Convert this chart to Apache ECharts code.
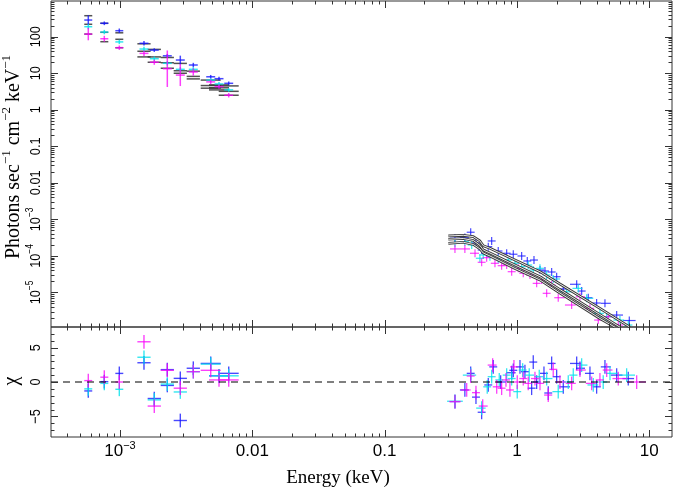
<!DOCTYPE html>
<html><head><meta charset="utf-8">
<script src="https://cdn.jsdelivr.net/npm/echarts/dist/echarts.min.js"></script>
<style>html,body{margin:0;padding:0;background:#fff}#c{width:675px;height:491px}</style>
</head><body><div id="c"></div>
<script>
// ---------------- data ----------------
// optical / UV bins (keV)
const optE      = [5.76e-4, 7.61e-4, 9.88e-4, 1.518e-3, 1.816e-3, 2.278e-3, 2.856e-3, 3.581e-3, 4.848e-3, 5.601e-3, 6.632e-3];
const optCrossLo= [5.37e-4, 7.10e-4, 9.22e-4, 1.404e-3, 1.680e-3, 2.107e-3, 2.642e-3, 3.312e-3, 4.484e-3, 5.181e-3, 6.135e-3];
const optCrossHi= [6.17e-4, 8.16e-4, 1.059e-3, 1.641e-3, 1.963e-3, 2.462e-3, 3.087e-3, 3.871e-3, 5.241e-3, 6.055e-3, 7.169e-3];
const optBinLo  = [5.37e-4, 7.10e-4, 9.22e-4, 1.353e-3, 1.618e-3, 2.030e-3, 2.545e-3, 3.191e-3, 4.072e-3, 4.705e-3, 5.571e-3];
const optBinHi  = [6.17e-4, 8.16e-4, 1.059e-3, 1.703e-3, 2.038e-3, 2.556e-3, 3.205e-3, 4.018e-3, 5.770e-3, 6.665e-3, 7.892e-3];
const optFluxBlue = [286, 233, 146, 66, 43, 30, 23, 16.8, 8.0, 7.1, 5.3];
const optFluxCyan = [188, 134, 72, 46, 25, 18.7, 12.8, 12.8, 6.5, 5.1, 3.5];
const optFluxMag  = [118, 88, 50, 35, 20, 13.3, 8.9, 10.8, 5.8, 4.3, 2.5];
const optErrBlue  = [0.13, 0.05, 0.06, 0.06, 0.05, 0.05, 0.12, 0.06, 0.05, 0.05, 0.05]; // dex
const optErrCyan  = [0.07, 0.06, 0.06, 0.06, 0.06, 0.06, 0.06, 0.06, 0.05, 0.05, 0.05];
const optErrMag   = [0.17, 0.08, 0.06, 0.07, 0.07, 0.50, 0.30, 0.10, 0.06, 0.06, 0.06];
const optModelBlue = [376, 233, 128, 64, 45, 27, 18.6, 11.4, 6.5, 4.8, 4.5];
const optModelCyan = [219, 132, 85, 40, 28, 19.4, 11.7, 8.2, 4.6, 4.0, 3.2];
const optModelMag  = [118, 73, 50, 28, 20, 13.7, 10, 7.0, 3.9, 3.5, 2.5];
const resOptBlue = [-1.3, 0.05, 1.25, 2.8, -2.4, 1.8, 0.53, 2.0, 2.7, 0.9, 1.26];
const resOptCyan = [-1.0, -0.2, -1.06, 3.6, -2.6, -0.3, -1.45, 1.5, 2.6, 0.9, 0.9];
const resOptMag  = [0.2, 0.7, 0.0, 5.85, -3.5, 1.7, -0.9, 1.5, 1.7, 0.3, 0.3];
const resOptExtraIdx  = [5, 6];
const resOptExtraBlue = [-0.5, -5.6];

// X-ray spectra (keV, photons/s/cm2/keV)
const xrEBlue = [0.340,0.404,0.447,0.490,0.541,0.607,0.644,0.722,0.836,0.938,1.085,1.197,1.345,1.493,1.628,1.829,1.995,2.239,2.827,3.083,3.458,4.0,4.624,5.67,7.063];
const xrFBlue = [3.04e-4,3.16e-4,4.44e-4,2.26e-4,1.45e-4,1.79e-4,2.56e-4,1.36e-4,1.18e-4,1.11e-4,9.94e-5,7.25e-5,7.7e-5,4.11e-5,3.86e-5,3.62e-5,2.69e-5,1.24e-5,1.67e-5,1.09e-5,7.16e-6,5.12e-6,5.03e-6,2.40e-6,1.70e-6];
const xrECyan = [0.340,0.404,0.455,0.525,0.556,0.625,0.722,0.859,0.966,1.085,1.217,1.328,1.493,1.677,1.880,2.375,2.906,3.363,4.238,4.765,6.004,6.937];
const xrFCyan = [2.21e-4,2.45e-4,1.99e-4,8.6e-5,1.06e-4,9.51e-5,8.2e-5,7.7e-5,6.27e-5,5.06e-5,5.63e-5,4.11e-5,4.57e-5,3.0e-5,2.33e-5,1.04e-5,1.29e-5,6.9e-6,2.67e-6,2.16e-6,1.75e-6,1.28e-6];
const xrEMag  = [0.340,0.404,0.482,0.541,0.590,0.682,0.766,0.836,0.912,1.023,1.116,1.254,1.409,1.537,1.677,1.829,2.051,2.590,2.993,3.562,4.117,4.898,5.832];
const xrFMag  = [1.55e-4,1.55e-4,1.18e-4,6.68e-5,8.93e-5,6.27e-5,5.39e-5,5.63e-5,3.69e-5,4.57e-5,3.34e-5,3.0e-5,1.77e-5,2.19e-5,9.45e-6,1.60e-5,7.16e-6,4.52e-6,7.6e-6,3.67e-6,1.75e-6,2.16e-6,1.28e-6];
const xrErrDex = 0.11;
const xrMinHalfDex = 0.03;   // narrowest drawn half-width of an X-ray bin

// X-ray model curves
const modelBlueE = [0.303,0.393,0.468,0.525,0.556,0.625,0.966,1.493,2.113,4.238,7.14];
const modelBlueF = [3.51e-4,3.66e-4,3.36e-4,2.56e-4,1.9e-4,1.61e-4,7.7e-5,3.69e-5,1.7e-5,3.65e-6,1.12e-6];
const modelCyanE = [0.303,0.393,0.468,0.525,0.556,0.625,0.966,1.493,2.113,4.238,6.0];
const modelCyanF = [2.85e-4,2.99e-4,2.64e-4,1.93e-4,1.45e-4,1.2e-4,5.63e-5,2.69e-5,1.2e-5,2.48e-6,1.12e-6];
const modelMagE  = [0.303,0.393,0.468,0.525,0.556,0.625,0.966,1.493,2.113,4.238,5.5];
const modelMagF  = [2.21e-4,2.36e-4,2.05e-4,1.55e-4,1.2e-4,9.94e-5,4.52e-5,2.19e-5,9.6e-6,1.93e-6,1.12e-6];

// X-ray residuals (chi)
const resXrEBlue = [0.340,0.404,0.447,0.490,0.541,0.607,0.662,0.753,0.912,0.938,1.054,1.149,1.291,1.328,1.409,1.600,1.724,1.829,1.995,2.239,2.827,2.993,3.562,4.0,4.624,5.67,6.937];
const resXrBlue  = [-2.85,-1.16,1.26,-2.2,-4.4,-0.43,2.2,0,1.35,1.7,2.2,1.5,-0.9,2.9,0,1.26,-1.6,2.7,0.77,-0.7,2.7,2.0,1.26,-0.7,2.2,1.0,0.5];
const resXrECyan = [0.340,0.447,0.541,0.596,0.644,0.735,0.836,0.912,1.005,1.104,1.238,1.474,1.677,2.051,2.442,2.664,3.083,3.773,4.487,5.046,6.745];
const resXrCyan  = [-2.8,1.0,-3.8,-0.7,0.77,0.3,1.0,0.5,-1.4,1.74,1.0,0.77,0.5,-1.4,0,1.0,2.46,-0.43,0,1.26,1.0];
const resXrEMag  = [0.340,0.417,0.447,0.490,0.551,0.655,0.703,0.766,0.826,0.885,0.949,1.005,1.116,1.217,1.368,1.493,1.724,1.880,2.113,2.590,2.993,3.669,4.238,4.765,5.832,8.03];
const resXrMag   = [-2.85,-1.16,0.87,-1.55,-3.5,2.46,-0.7,-0.9,0.3,-1.16,2.2,0,0.5,-0.2,0.5,-0.2,-1.9,1.84,0,-0.2,1.74,-0.2,0.3,1.74,0.5,0];

// axes and tick labels
const xMin = 3.01e-4, xMax = 14.85;
const yMin = 1.13e-6, yMax = 950;
const chiMin = -8, chiMax = 8;
const xTickVals = [1e-3, 1e-2, 1e-1, 1, 10];
const xTickBase = ['10', '0.01', '0.1', '1', '10'];
const xTickSup  = ['−3', '', '', '', ''];
const yTickVals = [100, 10, 1, 0.1, 0.01, 1e-3, 1e-4, 1e-5];
const yTickBase = ['100', '10', '1', '0.1', '0.01', '10', '10', '10'];
const yTickSup  = ['', '', '', '', '', '−3', '−4', '−5'];
const chiTickVals = [5, 0, -5];
const chiTickLabels = ['5', '0', '−5'];

// ---------------- build ----------------
const BLUE = 'rgba(20,20,255,0.78)', CYAN = 'rgba(0,225,235,0.8)', MAG = 'rgba(250,0,250,0.75)';
const FRAME = '#333';

function binEdges(E) {
  const n = E.length, lo = [], hi = [], m = Math.pow(10, xrMinHalfDex);
  for (let i = 0; i < n; i++) {
    const l = i > 0 ? Math.sqrt(E[i-1]*E[i]) : E[0]*Math.sqrt(E[0]/E[1]);
    const h = i < n-1 ? Math.sqrt(E[i]*E[i+1]) : E[n-1]*Math.sqrt(E[n-1]/E[n-2]);
    lo.push(Math.min(l, E[i]/m)); hi.push(Math.max(h, E[i]*m));
  }
  return [lo, hi];
}
function fluxItems(E, F, lo, hi, err) {
  return E.map((e, i) => { const d = Math.pow(10, Array.isArray(err) ? err[i] : err);
    return [e, F[i], lo[i], hi[i], F[i]/d, F[i]*d]; });
}
function resItems(E, chi, lo, hi) {
  return E.map((e, i) => [e, chi[i], lo[i], hi[i], chi[i]-1, chi[i]+1]);
}
function crossSeries(data, color, g, lw) {
  return {type: 'custom', xAxisIndex: g, yAxisIndex: g, clip: true, data: data, silent: true,
    renderItem: (p, api) => {
      const c = api.coord([api.value(0), api.value(1)]);
      const l = api.coord([api.value(2), api.value(1)]);
      const r = api.coord([api.value(3), api.value(1)]);
      const b = api.coord([api.value(0), api.value(4)]);
      const t = api.coord([api.value(0), api.value(5)]);
      const st = {stroke: color, lineWidth: lw || 1.2};
      return {type: 'group', children: [
        {type: 'line', shape: {x1: l[0], y1: c[1], x2: r[0], y2: c[1]}, style: st},
        {type: 'line', shape: {x1: c[0], y1: t[1], x2: c[0], y2: b[1]}, style: st}]};
    }};
}
function stepSeries(lo, hi, F) {
  return {type: 'custom', xAxisIndex: 0, yAxisIndex: 0, clip: true, silent: true,
    data: F.map((f, i) => [lo[i], f, hi[i]]),
    renderItem: (p, api) => {
      const a = api.coord([api.value(0), api.value(1)]);
      const b = api.coord([api.value(2), api.value(1)]);
      return {type: 'line', shape: {x1: a[0], y1: a[1], x2: b[0], y2: b[1]}, style: {stroke: 'rgba(40,40,40,0.8)', lineWidth: 1.5}};
    }};
}
function modelSeries(E, F) {
  const d = E.map((e, i) => [e, F[i]]);
  return [
    {type: 'line', xAxisIndex: 0, yAxisIndex: 0, data: d, showSymbol: false, symbol: 'none', silent: true, clip: true,
      lineStyle: {color: '#3a3a3a', width: 2.7}},
    {type: 'line', xAxisIndex: 0, yAxisIndex: 0, data: d, showSymbol: false, symbol: 'none', silent: true, clip: true,
      lineStyle: {color: '#fff', width: 0.9}}];
}
// tick marks (log axes get 2..9 minor ticks, chi axis integer minor ticks)
function logTicks(min, max) {
  const out = [];
  for (let n = Math.floor(Math.log10(min)); n <= Math.ceil(Math.log10(max)); n++)
    for (let k = 1; k <= 9; k++) { const v = k*Math.pow(10, n); if (v >= min && v <= max) out.push([v, k === 1 ? 1 : 0]); }
  return out;
}
function tickSeries(g, xT, yT, xRef, yRef) {
  const data = xT.map(t => [t[0], yRef, 0, t[1]]).concat(yT.map(t => [xRef, t[0], 1, t[1]]));
  return {type: 'custom', xAxisIndex: g, yAxisIndex: g, clip: false, silent: true, data: data, z: 5,
    renderItem: (p, api) => {
      const cs = p.coordSys, L = api.value(3) ? 7 : 3.5;
      const pt = api.coord([api.value(0), api.value(1)]);
      const st = {stroke: FRAME, lineWidth: 1};
      if (api.value(2) === 0) {
        const x = Math.round(pt[0]) + 0.5;
        return {type: 'group', children: [
          {type: 'line', shape: {x1: x, y1: cs.y, x2: x, y2: cs.y + L}, style: st},
          {type: 'line', shape: {x1: x, y1: cs.y + cs.height, x2: x, y2: cs.y + cs.height - L}, style: st}]};
      }
      const y = Math.round(pt[1]) + 0.5;
      return {type: 'group', children: [
        {type: 'line', shape: {x1: cs.x, y1: y, x2: cs.x + L, y2: y}, style: st},
        {type: 'line', shape: {x1: cs.x + cs.width, y1: y, x2: cs.x + cs.width - L, y2: y}, style: st}]};
    }};
}
const sansRich = (fb, fs) => ({
  b: {fontSize: fb, fontFamily: 'Liberation Sans', lineHeight: fb + 3, verticalAlign: 'bottom', fill: '#000'},
  s: {fontSize: fs, fontFamily: 'Liberation Sans', lineHeight: fs + 1, verticalAlign: 'top', fill: '#000'}});
function labelText(base, sup) { return '{b|' + base + '}' + (sup ? '{s|' + sup + '}' : ''); }

const xLabelSeries = {type: 'custom', xAxisIndex: 1, yAxisIndex: 1, clip: false, silent: true,
  data: xTickVals.map(v => [v, 0]),
  renderItem: (p, api) => {
    const pt = api.coord([api.value(0), api.value(1)]);
    return {type: 'text', x: pt[0], y: 450, style: {text: labelText(xTickBase[p.dataIndex], xTickSup[p.dataIndex]),
      rich: sansRich(17, 11), align: 'center', verticalAlign: 'middle', fill: '#000'}};
  }};
const yLabelSeries = {type: 'custom', xAxisIndex: 0, yAxisIndex: 0, clip: false, silent: true,
  data: yTickVals.map(v => [1, v]),
  renderItem: (p, api) => {
    const pt = api.coord([api.value(0), api.value(1)]);
    return {type: 'text', x: 43, y: pt[1], rotation: Math.PI/2, scaleX: 0.85,
      style: {text: labelText(yTickBase[p.dataIndex], yTickSup[p.dataIndex]),
      rich: sansRich(15, 10), align: 'center', verticalAlign: 'bottom', fill: '#000'}};
  }};
const chiLabelSeries = {type: 'custom', xAxisIndex: 1, yAxisIndex: 1, clip: false, silent: true,
  data: chiTickVals.map(v => [1, v]),
  renderItem: (p, api) => {
    const pt = api.coord([api.value(0), api.value(1)]);
    return {type: 'text', x: 43, y: pt[1], rotation: Math.PI/2, scaleX: 0.85,
      style: {text: labelText(chiTickLabels[p.dataIndex], ''), rich: sansRich(15, 10),
      align: 'center', verticalAlign: 'bottom', fill: '#000'}};
  }};

// assemble items
const [bLo, bHi] = binEdges(xrEBlue), [cLo, cHi] = binEdges(xrECyan), [mLo, mHi] = binEdges(xrEMag);
const [rbLo, rbHi] = binEdges(resXrEBlue), [rcLo, rcHi] = binEdges(resXrECyan), [rmLo, rmHi] = binEdges(resXrEMag);
const extraE = resOptExtraIdx.map(i => optE[i]);
const extraLo = resOptExtraIdx.map(i => optBinLo[i]);
const extraHi = resOptExtraIdx.map(i => optBinHi[i]);

const series = [
  stepSeries(optBinLo, optBinHi, optModelBlue),
  stepSeries(optBinLo, optBinHi, optModelCyan),
  stepSeries(optBinLo, optBinHi, optModelMag),
  ...modelSeries(modelBlueE, modelBlueF),
  ...modelSeries(modelCyanE, modelCyanF),
  ...modelSeries(modelMagE, modelMagF),
  crossSeries(fluxItems(optE, optFluxBlue, optCrossLo, optCrossHi, optErrBlue), BLUE, 0, 1.5),
  crossSeries(fluxItems(optE, optFluxCyan, optCrossLo, optCrossHi, optErrCyan), CYAN, 0, 1.5),
  crossSeries(fluxItems(optE, optFluxMag, optCrossLo, optCrossHi, optErrMag), MAG, 0, 1.5),
  crossSeries(fluxItems(xrEBlue, xrFBlue, bLo, bHi, xrErrDex), BLUE, 0),
  crossSeries(fluxItems(xrECyan, xrFCyan, cLo, cHi, xrErrDex), CYAN, 0),
  crossSeries(fluxItems(xrEMag, xrFMag, mLo, mHi, xrErrDex), MAG, 0),
  {type: 'line', xAxisIndex: 1, yAxisIndex: 1, data: [[xMin, 0], [xMax, 0]], symbol: 'none', silent: true,
    lineStyle: {color: '#000', width: 1.2, type: [7, 5]}},
  crossSeries(resItems(optE, resOptBlue, optBinLo, optBinHi), BLUE, 1, 1.4),
  crossSeries(resItems(extraE, resOptExtraBlue, extraLo, extraHi), BLUE, 1, 1.4),
  crossSeries(resItems(optE, resOptCyan, optBinLo, optBinHi), CYAN, 1, 1.4),
  crossSeries(resItems(optE, resOptMag, optBinLo, optBinHi), MAG, 1, 1.4),
  crossSeries(resItems(resXrEBlue, resXrBlue, rbLo, rbHi), BLUE, 1, 1.3),
  crossSeries(resItems(resXrECyan, resXrCyan, rcLo, rcHi), CYAN, 1, 1.3),
  crossSeries(resItems(resXrEMag, resXrMag, rmLo, rmHi), MAG, 1, 1.3),
  tickSeries(0, logTicks(xMin, xMax), logTicks(yMin, yMax), 1, 1),
  tickSeries(1, logTicks(xMin, xMax), Array.from({length: 17}, (_, i) => [i - 8, (i - 8) % 5 === 0 ? 1 : 0]).filter(t => t[0] > chiMin && t[0] < chiMax), 1, 0),
  xLabelSeries, yLabelSeries, chiLabelSeries
];

const hiddenAxis = {axisLine: {show: false}, axisTick: {show: false}, axisLabel: {show: false}, splitLine: {show: false}};
const chart = echarts.init(document.getElementById('c'), null, {renderer: 'canvas'});
chart.setOption({
  animation: false,
  backgroundColor: '#fff',
  grid: [
    {left: 51, right: 3, top: 1, height: 326, show: true, borderColor: FRAME, borderWidth: 1, backgroundColor: 'transparent', containLabel: false, outerBoundsMode: 'none'},
    {left: 51, right: 3, top: 327, height: 110, show: true, borderColor: FRAME, borderWidth: 1, backgroundColor: 'transparent', containLabel: false, outerBoundsMode: 'none'}
  ],
  xAxis: [
    Object.assign({type: 'log', gridIndex: 0, min: xMin, max: xMax, logBase: 10}, hiddenAxis),
    Object.assign({type: 'log', gridIndex: 1, min: xMin, max: xMax, logBase: 10}, hiddenAxis)
  ],
  yAxis: [
    Object.assign({type: 'log', gridIndex: 0, min: yMin, max: yMax, logBase: 10}, hiddenAxis),
    Object.assign({type: 'value', gridIndex: 1, min: chiMin, max: chiMax}, hiddenAxis)
  ],
  graphic: [
    {type: 'text', x: 12, y: 157, rotation: Math.PI/2, silent: true,
      style: {text: '{b|Photons sec}{s|−1}{b| cm}{s|−2}{b| keV}{s|−1}', align: 'center', verticalAlign: 'middle',
        rich: {b: {fontSize: 20, fontFamily: 'Liberation Serif', lineHeight: 23, verticalAlign: 'bottom', fill: '#000'},
               s: {fontSize: 13, fontFamily: 'Liberation Serif', lineHeight: 14, verticalAlign: 'top', fill: '#000'}}}},
    {type: 'text', x: 12, y: 381, rotation: Math.PI/2, silent: true,
      style: {text: 'χ', font: '20px "Liberation Serif"', align: 'center', verticalAlign: 'middle', fill: '#000'}},
    {type: 'text', x: 338, y: 478, silent: true,
      style: {text: 'Energy (keV)', font: '19px "Liberation Serif"', align: 'center', verticalAlign: 'middle', fill: '#000'}}
  ],
  series: series
});
</script></body></html>
